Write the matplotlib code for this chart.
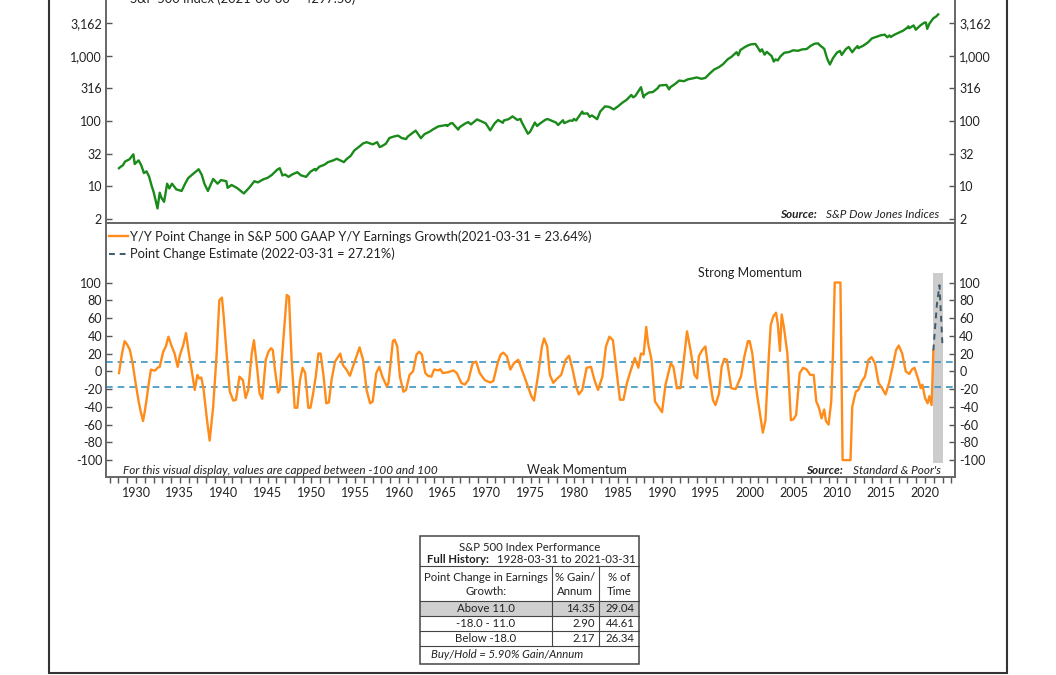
import matplotlib
matplotlib.use("Agg")
import matplotlib.pyplot as plt
from matplotlib.patches import Rectangle

plt.rcParams["font.family"] = ["Lato", "DejaVu Sans"]
plt.rcParams["axes.unicode_minus"] = False
plt.rcParams["text.color"] = "#222222"
plt.rcParams["xtick.color"] = "#555555"
plt.rcParams["ytick.color"] = "#555555"
plt.rcParams["xtick.labelcolor"] = "#222222"
plt.rcParams["ytick.labelcolor"] = "#222222"

# S&P 500 index (approximate, decimal years)
spx_t = [1928.06, 1928.25, 1928.5, 1928.75, 1929.0, 1929.25, 1929.7, 1929.85, 1930.0, 1930.3,
         1930.6, 1930.9, 1931.2, 1931.5, 1931.8, 1932.0, 1932.45, 1932.7, 1932.9, 1933.2,
         1933.55, 1933.8, 1934.1, 1934.6, 1935.2, 1935.6, 1935.95, 1936.5, 1937.15, 1937.5,
         1937.8, 1938.2, 1938.8, 1939.3, 1939.7, 1940.3, 1940.45, 1940.9, 1941.5, 1942.3,
         1942.9, 1943.5, 1943.9, 1944.5, 1945.0, 1945.5, 1946.1, 1946.4, 1946.7, 1947.0,
         1947.4, 1947.8, 1948.4, 1948.8, 1949.4, 1949.9, 1950.4, 1950.5, 1950.9, 1951.5,
         1951.9, 1952.5, 1952.9, 1953.5, 1953.7, 1954.0, 1954.5, 1954.9, 1955.5, 1955.9,
         1956.3, 1956.8, 1957.0, 1957.5, 1957.8, 1958.0, 1958.5, 1958.9, 1959.5, 1959.9,
         1960.3, 1960.8, 1961.0, 1961.9, 1962.5, 1962.9, 1963.5, 1963.9, 1964.5, 1964.9,
         1965.4, 1965.5, 1965.9, 1966.1, 1966.75, 1966.9, 1967.5, 1967.9, 1968.2, 1968.9,
         1969.5, 1969.9, 1970.4, 1970.9, 1971.3, 1971.85, 1971.95, 1972.5, 1972.95, 1973.5,
         1973.85, 1974.0, 1974.7, 1974.95, 1975.5, 1975.75, 1976.0, 1976.7, 1976.95, 1977.5,
         1977.9, 1978.15, 1978.7, 1978.85, 1979.5, 1979.8, 1979.95, 1980.2, 1980.9, 1981.0,
         1981.5, 1981.75, 1982.0, 1982.6, 1982.95, 1983.5, 1983.95, 1984.5, 1984.95, 1985.5,
         1985.95, 1986.5, 1986.7, 1986.95, 1987.6, 1987.9, 1988.0, 1988.5, 1988.95, 1989.5,
         1989.7, 1989.95, 1990.5, 1990.8, 1990.95, 1991.5, 1991.95, 1992.5, 1992.95, 1993.5,
         1993.95, 1994.5, 1994.95, 1995.5, 1995.95, 1996.5, 1996.95, 1997.5, 1997.95, 1998.5,
         1998.7, 1998.95, 1999.5, 1999.95, 2000.2, 2000.65, 2000.95, 2001.2, 2001.4, 2001.7,
         2001.95, 2002.5, 2002.75, 2002.95, 2003.2, 2003.5, 2003.95, 2004.5, 2004.95, 2005.5,
         2005.95, 2006.5, 2006.95, 2007.4, 2007.8, 2007.95, 2008.5, 2008.85, 2009.15, 2009.5,
         2009.95, 2010.3, 2010.5, 2010.95, 2011.3, 2011.7, 2011.95, 2012.3, 2012.4, 2012.95,
         2013.5, 2013.95, 2014.5, 2014.95, 2015.4, 2015.7, 2015.95, 2016.1, 2016.5, 2016.95,
         2017.5, 2017.95, 2018.1, 2018.2, 2018.7, 2018.95, 2019.5, 2019.95, 2020.1, 2020.25,
         2020.5, 2020.95, 2021.25, 2021.5]
spx_v = [19, 20, 21, 24, 25, 26, 31, 22, 23, 25,
         21, 16, 17, 14, 10, 8.3, 4.6, 8, 6.7, 5.8,
         11, 9.3, 11, 9, 8.5, 11, 13.4, 15.5, 18.3, 15,
         11, 8.5, 13, 11, 12.5, 12, 9.5, 10.5, 9.5, 7.8,
         9.5, 12, 11.5, 12.8, 13.5, 15, 18, 19, 14.7, 15.2,
         14, 15.2, 16.5, 14.8, 14, 16.8, 18.5, 17.5, 20, 21.5,
         23.5, 25, 26.5, 24.3, 23.5, 26, 29.5, 35.5, 41, 45.5,
         47.5, 45, 44, 47.5, 40, 41, 45, 55, 58.5, 59.9,
         55, 53, 58, 71.5, 54.7, 63, 69, 75, 83, 84.8,
         87, 84, 92.4, 92.9, 74, 80.3, 91, 96.5, 89, 106,
         97.7, 92, 72, 92, 104, 94, 102, 107, 118, 104,
         108, 96, 64, 68.5, 95, 84, 90, 105, 107.5, 100,
         95, 87, 103, 93, 102, 101, 108, 102, 140, 130,
         131, 116, 122, 107, 140, 168, 165, 151, 167, 192,
         211, 251, 231, 242, 330, 230, 247, 274, 278, 318,
         349, 353, 358, 306, 330, 371, 417, 408, 436, 450,
         466, 444, 459, 544, 616, 670, 741, 885, 970, 1134,
         1017, 1229, 1372, 1469, 1499, 1517, 1320, 1160, 1255, 1041,
         1148, 990, 815, 880, 848, 975, 1112, 1141, 1212, 1191,
         1248, 1270, 1418, 1530, 1549, 1468, 1280, 896, 735, 919,
         1115, 1187, 1030, 1258, 1364, 1131, 1258, 1408, 1310, 1426,
         1606, 1848, 1960, 2059, 2107, 1920, 2044, 1940, 2099, 2239,
         2423, 2674, 2824, 2640, 2914, 2507, 2942, 3231, 3226, 2585,
         3100, 3756, 3973, 4297.5]

# Y/Y point change in GAAP Y/Y earnings growth (capped at +/-100)
eps_t = [1928.06, 1928.4, 1928.7, 1929.0, 1929.3, 1929.6, 1929.9, 1930.3, 1930.55, 1930.8,
         1931.0, 1931.2, 1931.45, 1931.7, 1932.0, 1932.2, 1932.45, 1932.7, 1933.1, 1933.4,
         1933.7, 1934.0, 1934.4, 1934.75, 1935.0, 1935.4, 1935.7, 1936.0, 1936.4, 1936.7,
         1937.0, 1937.2, 1937.45, 1937.7, 1938.1, 1938.4, 1938.8, 1939.2, 1939.5, 1939.8,
         1940.0, 1940.3, 1940.7, 1941.1, 1941.4, 1941.8, 1942.2, 1942.5, 1942.8, 1943.2,
         1943.45, 1943.8, 1944.1, 1944.4, 1944.8, 1945.1, 1945.4, 1945.6, 1945.85, 1946.2,
         1946.4, 1946.8, 1947.2, 1947.45, 1947.75, 1948.1, 1948.4, 1948.7, 1949.0, 1949.3,
         1949.65, 1949.9, 1950.2, 1950.5, 1950.8, 1951.06, 1951.4, 1951.7, 1952.0, 1952.3,
         1952.7, 1953.3, 1953.6, 1954.0, 1954.4, 1954.8, 1955.5, 1955.9, 1956.3, 1956.7,
         1957.0, 1957.4, 1957.75, 1958.1, 1958.6, 1958.8, 1959.3, 1959.5, 1959.8, 1960.1,
         1960.5, 1960.8, 1961.2, 1961.6, 1962.0, 1962.3, 1962.6, 1963.0, 1963.3, 1963.7,
         1964.0, 1964.5, 1964.7, 1965.0, 1965.6, 1966.2, 1966.6, 1967.1, 1967.5, 1967.9,
         1968.4, 1968.8, 1969.2, 1969.8, 1970.4, 1970.75, 1971.3, 1971.6, 1971.9, 1972.3,
         1972.7, 1973.1, 1973.6, 1973.9, 1974.3, 1974.7, 1975.1, 1975.4, 1975.9, 1976.3,
         1976.55, 1976.9, 1977.2, 1977.6, 1978.05, 1978.5, 1979.0, 1979.4, 1979.8, 1980.2,
         1980.5, 1980.9, 1981.4, 1981.9, 1982.3, 1982.7, 1983.2, 1983.6, 1984.0, 1984.4,
         1984.8, 1985.2, 1985.6, 1986.0, 1986.4, 1986.9, 1987.3, 1987.6, 1987.9, 1988.2,
         1988.4, 1988.8, 1989.2, 1989.6, 1990.0, 1990.4, 1991.0, 1991.3, 1991.7, 1992.1,
         1992.4, 1992.85, 1993.25, 1993.7, 1994.0, 1994.2, 1994.6, 1994.95, 1995.4, 1995.8,
         1996.1, 1996.5, 1996.8, 1997.1, 1997.4, 1997.9, 1998.4, 1999.0, 1999.4, 1999.8,
         2000.0, 2000.3, 2000.7, 2001.1, 2001.5, 2001.8, 2002.2, 2002.4, 2002.7, 2003.0,
         2003.2, 2003.45, 2003.65, 2003.9, 2004.3, 2004.7, 2005.0, 2005.3, 2005.7, 2006.1,
         2006.5, 2006.9, 2007.3, 2007.6, 2007.9, 2008.2, 2008.5, 2008.7, 2009.0, 2009.3,
         2009.5, 2009.7, 2010.35, 2010.6, 2011.5, 2011.7, 2012.1, 2012.4, 2012.8, 2013.15,
         2013.55, 2013.9, 2014.3, 2014.7, 2015.1, 2015.5, 2015.9, 2016.3, 2016.7, 2017.0,
         2017.4, 2017.8, 2018.2, 2018.5, 2018.8, 2019.2, 2019.5, 2019.7, 2020.0, 2020.3,
         2020.5, 2020.75, 2020.95]
eps_v = [-2, 20, 34, 30, 24, 10, -10, -34, -46, -56,
         -45, -32, -14, 2, 1, 1, 4, 5, 22, 28,
         39, 30, 20, 5, 18, 30, 43, 22, -2, -21,
         -4, -8, -7, -20, -55, -78, -40, 20, 80, 83,
         62, 24, -23, -33, -32, -6, -10, -30, -21, 20,
         35, 5, -25, -31, 13, 22, 26, 24, 2, -24,
         -21, 35, 86, 84, 13, -41, -41, -10, 4, -2,
         -41, -41, -25, -6, 20, 20, -6, -36, -35, -10,
         11, 20, 7, 2, -5, 7, 27, 13, -21, -36,
         -34, -2, 5, -6, -17, -13, 34, 35.5, 28, -6,
         -23, -21, -4, 0, 19, 22, 19, -2, -5, -6,
         2, 1, 2.4, -2, -1, 1, -2, -13, -15, -10,
         9, 11, -2, -10, -12.6, -11, 11, 19, 21, 17,
         2, 9, 13, 5, -6, -17, -28, -33, -2, 28,
         37, 28, -4, -13, -8, -4, 13, 17.5, 2, -17,
         -26, -21, 4, 5, -10, -21, -6, 28, 39, 35,
         2, -32, -32, -13, 0, 15, 4, 20, 19, 50,
         32, 13, -34, -40, -46, -15, 9, 5, -19, -19,
         5, 45, 24, -4, -8, 17, 24, 28, -6, -32,
         -38, -25, 5, 14, 13, -19, -20, -6, 17, 34,
         34, 20, -17, -43, -69, -55, 20, 52, 62, 66,
         54, 23, 64, 50, 20, -55, -54, -49, -2, 4,
         2, -4, -4, -34, -41, -53, -43, -56, -60, -34,
         20, 100, 100, -100, -100, -40, -23, -21, -11, -6,
         13, 16, 9, -13, -19, -26, -13, 5, 24, 29,
         20, 0, -3, 2, 4, -8, -19, -15, -30, -36,
         -28, -38, 23.64]

# estimate to 2022-03-31
est_t = [2020.95, 2021.35, 2021.65, 2022.0]
est_v = [23.64, 75, 97, 27.21]
est_band = (2020.95, 2022.05)

upper_thr = 11.0
lower_thr = -18.0

spx_ticks = [10 ** 0.5, 10, 10 ** 1.5, 100, 10 ** 2.5, 1000, 10 ** 3.5]
spx_ticklabels = ["2", "10", "32", "100", "316", "1,000", "3,162"]
eps_ticks = list(range(-100, 101, 20))
year_ticks = list(range(1930, 2021, 5))

tbl_rows = ["Above 11.0", "-18.0 - 11.0", "Below -18.0"]
tbl_gain = ["14.35", "2.90", "2.17"]
tbl_time = ["29.04", "44.61", "26.34"]

W, H = 1056, 675
fig = plt.figure(figsize=(W / 100, H / 100), dpi=100)


# pixel helpers for layout
def fx(px):
    return px / W


def fy(py):
    return 1 - py / H


left, right = 106.3, 955.0
mid, bot = 223.0, 477.0
top_px = -10.0

ax1 = fig.add_axes([fx(left), fy(mid), fx(right) - fx(left), fy(top_px) - fy(mid)])
ax2 = fig.add_axes([fx(left), fy(bot), fx(right) - fx(left), fy(mid) - fy(bot)], sharex=ax1)

spine_c = "#666666"
for ax in (ax1, ax2):
    for s in ax.spines.values():
        s.set_color(spine_c)
        s.set_linewidth(1.4)

# top panel
ax1.plot(spx_t, spx_v, color="#1a8a1a", lw=1.7, label="S&P 500 Index (2021-06-30 = 4297.50)")
ax1.set_yscale("log")
ax1.set_ylim(2.75, 10 ** 4.007)
ax1.set_yticks(spx_ticks)
ax1.set_yticklabels(spx_ticklabels)
ax1.minorticks_off()
ax1.tick_params(axis="y", which="both", direction="in", length=4, width=1, pad=3,
                right=True, labelright=True, labelsize=9)
ax1.tick_params(axis="x", which="both", bottom=False, labelbottom=False)
ax1.legend(loc="upper left", bbox_to_anchor=(0, 1), frameon=False, fontsize=9.3,
           handlelength=1.5, handletextpad=0.15, borderpad=0.1, borderaxespad=0.1)
src1 = ax1.text(0.982, 0.012, "S&P Dow Jones Indices", transform=ax1.transAxes,
                ha="right", va="bottom", fontsize=8.5, style="italic")
ax1.annotate("Source:", xy=(0, 0), xycoords=src1, xytext=(-7, 0), textcoords="offset points",
             ha="right", va="bottom", fontsize=8.5, style="italic", fontweight="bold")

# bottom panel
ax2.fill_between(list(est_band), -103, 111, color="#cccccc", lw=0, zorder=1)
ax2.axhline(upper_thr, color="#3a93c3", lw=1.2, ls=(0, (4, 3)), zorder=2)
ax2.axhline(lower_thr, color="#3a93c3", lw=1.2, ls=(0, (4, 3)), zorder=2)
ax2.plot(eps_t, eps_v, color="#ff8c1a", lw=1.7, zorder=3,
         label="Y/Y Point Change in S&P 500 GAAP Y/Y Earnings Growth(2021-03-31 = 23.64%)")
ax2.plot(est_t, est_v, color="#3f5a6b", lw=1.4, ls=(0, (3, 2.5)), zorder=4,
         label="Point Change Estimate (2022-03-31 = 27.21%)")
ax2.set_ylim(-119, 167)
ax2.set_yticks(eps_ticks)
ax2.tick_params(axis="y", direction="in", length=4, width=1, pad=3,
                right=True, labelright=True, labelsize=9)
ax2.set_xlim(1926.61, 2023.42)
ax2.set_xticks(year_ticks)
ax2.set_xticks(list(range(1927, 2024)), minor=True)
ax2.tick_params(axis="x", which="both", direction="out", length=4, width=1, pad=3, labelsize=9)
ax2.legend(loc="upper left", bbox_to_anchor=(0, 0.982), frameon=False, fontsize=9.3,
           handlelength=1.5, handletextpad=0.15, borderpad=0.1, borderaxespad=0.1,
           labelspacing=0.4)

ax2.text(0.758, 0.802, "Strong Momentum", transform=ax2.transAxes, ha="center", va="center",
         fontsize=9)
ax2.text(0.555, 0.026, "Weak Momentum", transform=ax2.transAxes, ha="center", va="center",
         fontsize=9)
ax2.text(0.0197, 0.026, "For this visual display, values are capped between -100 and 100",
         transform=ax2.transAxes, ha="left", va="center", fontsize=8.5, style="italic")
src2 = ax2.text(0.983, 0.026, "Standard & Poor's", transform=ax2.transAxes,
                ha="right", va="center", fontsize=8.5, style="italic")
ax2.annotate("Source:", xy=(0, 0.5), xycoords=src2, xytext=(-7, 0), textcoords="offset points",
             ha="right", va="center", fontsize=8.5, style="italic", fontweight="bold")

# overlay in pixel coordinates: outer frame and table
ov = fig.add_axes([0, 0, 1, 1], zorder=-1)
ov.set_xlim(0, W)
ov.set_ylim(H, 0)
ov.axis("off")
ov.plot([49, 49, 1007, 1007], [-5, 672.5, 672.5, -5], color="#333333", lw=1.5,
        solid_joinstyle="miter")

tl, tr, tt, tb = 420, 638.7, 536, 663.5
c1, c2 = 551.7, 599
rows_y = [565.7, 601, 616, 631, 646]
lc = "#444444"
ov.add_patch(Rectangle((tl, rows_y[1]), tr - tl, rows_y[2] - rows_y[1], color="#cfcfcf", lw=0))
ov.add_patch(Rectangle((tl, tt), tr - tl, tb - tt, fill=False, ec=lc, lw=1.1))
for y in rows_y:
    ov.plot([tl, tr], [y, y], color=lc, lw=0.8)
for x in (c1, c2):
    ov.plot([x, x], [rows_y[0], rows_y[-1]], color=lc, lw=0.8)

fs = 8.2
ov.text((tl + tr) / 2, 547.7, "S&P 500 Index Performance", ha="center", va="center", fontsize=fs)
fh = ov.text(426.7, 559.5, "Full History:", ha="left", va="center", fontsize=fs, fontweight="bold")
ov.annotate("1928-03-31 to 2021-03-31", xy=(1, 0.5), xycoords=fh, xytext=(6, 0),
            textcoords="offset points", ha="left", va="center", fontsize=fs)
ov.text((tl + c1) / 2, 584.5, "Point Change in Earnings\nGrowth:", ha="center", va="center",
        fontsize=fs, linespacing=1.3)
ov.text((c1 + c2) / 2, 584.5, "% Gain/\nAnnum", ha="center", va="center", fontsize=fs,
        linespacing=1.3)
ov.text((c2 + tr) / 2, 584.5, "% of\nTime", ha="center", va="center", fontsize=fs,
        linespacing=1.3)
for i, (lab, g, t) in enumerate(zip(tbl_rows, tbl_gain, tbl_time)):
    yc = (rows_y[i + 1] + rows_y[i + 2]) / 2
    ov.text((tl + c1) / 2, yc, lab, ha="center", va="center", fontsize=fs)
    ov.text(c2 - 4, yc, g, ha="right", va="center", fontsize=fs)
    ov.text(tr - 4, yc, t, ha="right", va="center", fontsize=fs)
ov.text(430.7, (rows_y[-1] + tb) / 2, "Buy/Hold = 5.90% Gain/Annum", ha="left", va="center",
        fontsize=fs, style="italic")

fig.savefig("out.png", dpi=100)
